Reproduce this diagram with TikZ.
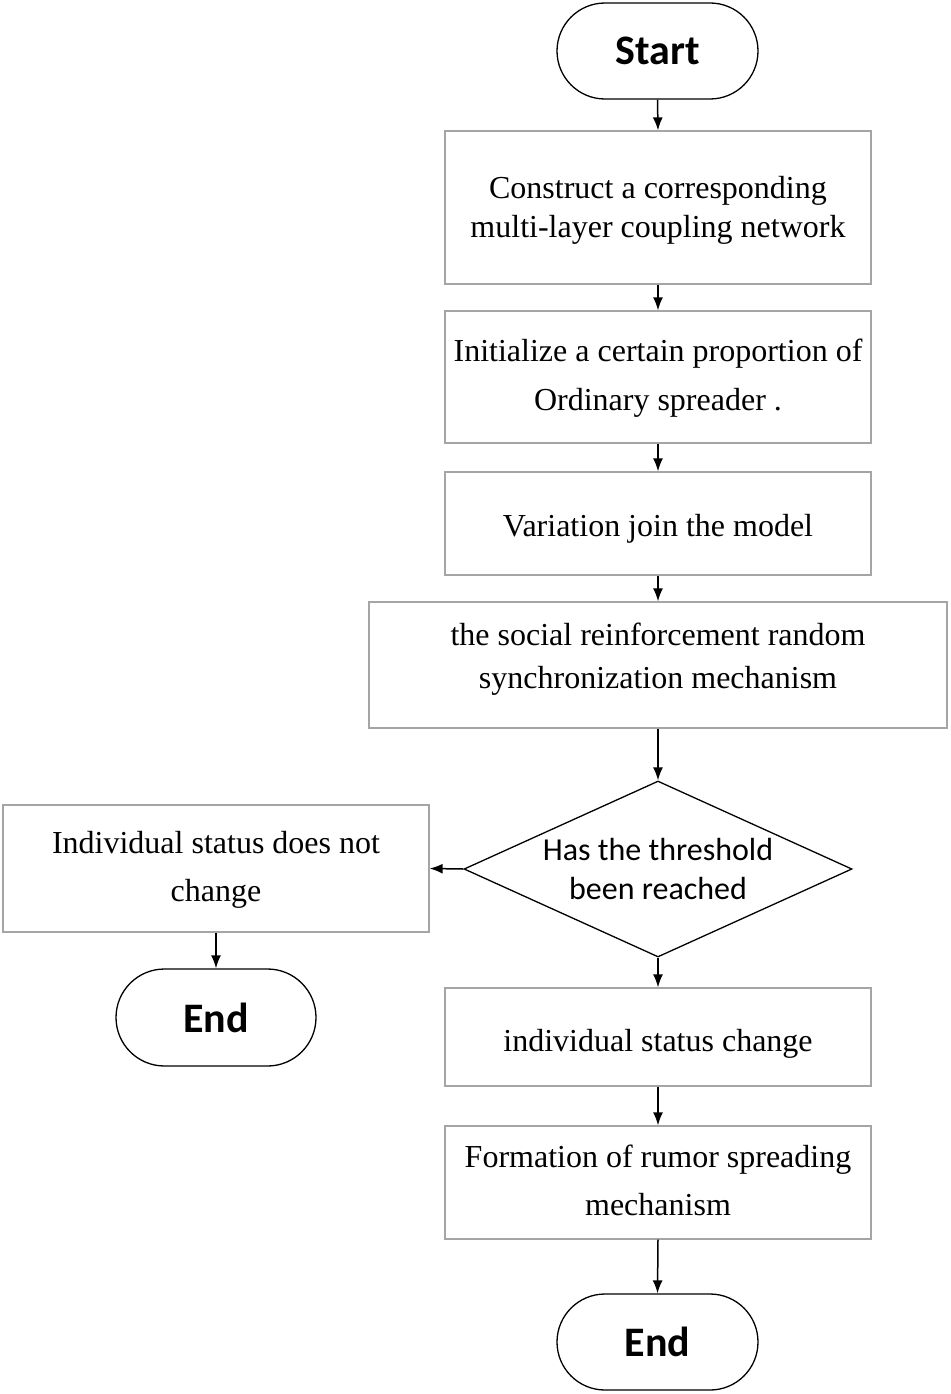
\documentclass[tikz,border=0pt]{standalone}
\usepackage{fontspec}
\setmainfont{Liberation Serif}
\newfontfamily\calib{Carlito}
\usetikzlibrary{shapes.geometric,shapes.misc,arrows.meta}
\definecolor{boxgray}{RGB}{165,165,165}
\newcommand\mltext[2]{\raisebox{-#1pt}[0pt][0pt]{\begin{tabular}[b]{@{}c@{}}#2\end{tabular}}}
\tikzset{
  stepbox/.style={draw=boxgray, line width=1.3pt, rectangle, inner sep=0pt, align=center, minimum width=426pt},
  term/.style={draw=black, line width=1.3pt, rounded rectangle, inner sep=0pt, minimum width=201pt, minimum height=96pt, font=\calib\bfseries\fontsize{42}{48}\selectfont},
  dec/.style={draw=black, line width=1.3pt, diamond, inner sep=0pt, minimum width=388pt, minimum height=176pt},
  flow/.style={line width=1.5pt, -{Latex[length=13pt,width=10pt]}}
}
\begin{document}
\begin{tikzpicture}[x=1pt,y=-1pt]
\useasboundingbox[fill=white] (0,0) rectangle (950,1394);
\node[term] (start) at (657.5,51) {Start};
\node[stepbox, minimum height=153pt, font=\fontsize{32}{39}\selectfont] (b1) at (658,207.5) {\mltext{29.5}{Construct a corresponding\\multi-layer coupling network}};
\node[stepbox, minimum height=132pt, font=\fontsize{32}{49}\selectfont] (b2) at (658,377) {\mltext{33}{Initialize a certain proportion of\\Ordinary spreader .}};
\node[stepbox, minimum height=103pt, font=\fontsize{32}{39}\selectfont] (b3) at (658,523.5) {\mltext{12.5}{Variation join the model}};
\node[stepbox, minimum width=578pt, minimum height=126pt, font=\fontsize{32}{43}\selectfont] (b4) at (658,665) {\mltext{23}{the social reinforcement random\\synchronization mechanism}};
\node[dec] (dia) at (658,869) {};
\node[align=center, font=\calib\fontsize{32}{39}\selectfont] (diatext) at (dia.center) {Has the threshold\\been reached};
\node[stepbox, minimum height=127pt, font=\fontsize{32}{48}\selectfont] (left) at (216,868.5) {\mltext{32.5}{Individual status does not\\change}};
\node[term, minimum width=200pt, minimum height=97pt] (endL) at (216,1017.5) {End};
\node[stepbox, minimum height=98pt, font=\fontsize{32}{39}\selectfont] (b5) at (658,1037) {\mltext{14}{individual status change}};
\node[stepbox, minimum height=113pt, font=\fontsize{32}{48}\selectfont] (b6) at (658,1182.5) {\mltext{32.5}{Formation of rumor spreading\\mechanism}};
\node[term] (endB) at (657.5,1342) {End};
\draw[flow] (start.south) -- (b1.north);
\draw[flow] (b1.south) -- (b2.north);
\draw[flow] (b2.south) -- (b3.north);
\draw[flow] (b3.south) -- (b4.north);
\draw[flow] (b4.south) -- (dia.north);
\draw[flow] (dia.west) -- (left.east);
\draw[flow] (left.south) -- (endL.north);
\draw[flow] (dia.south) -- (b5.north);
\draw[flow] (b5.south) -- (b6.north);
\draw[flow] (b6.south) -- (endB.north);
\end{tikzpicture}
\end{document}
